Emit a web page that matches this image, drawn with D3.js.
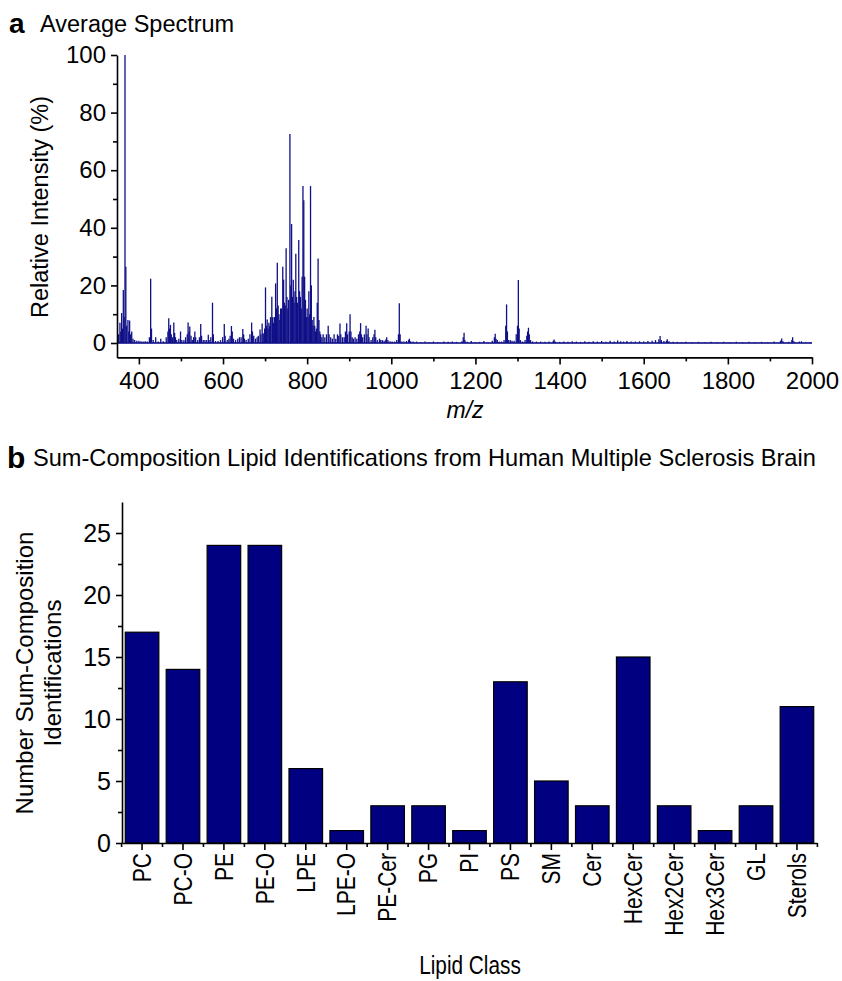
<!DOCTYPE html>
<html lang="en">
<head>
<meta charset="utf-8">
<title>Lipid spectrum</title>
<script src="https://cdn.jsdelivr.net/npm/d3@7/dist/d3.min.js"></script>
<style>
  body { margin: 0; background: #fff; }
  svg { font-family: Arial, "Liberation Sans", sans-serif; }
  .axis path, .axis line { stroke: #000; stroke-width: 1.6; }
  .axis text { fill: #000; }
</style>
</head>
<body>
<div id="chart"></div>
<script>
(function(d3) {
  'use strict';

  // panel a: peak list (m/z, relative intensity %)
  var peakMz = [352,355,357,359,361,363,365,367,369,371,374,376,378,380,383,386,390,395,400,405,410,415,420,425,428,430,434,440,446,452,458,
    465,469,471,473,475,477,480,483,485,487,490,495,499,502,507,511,515,517,519,521,524,527,530,533,535,540,544,547,549,553,557,561,565,567,571,575,577,
    582,588,594,599,603,605,610,614,617,620,622,625,630,635,639,643,647,649,651,655,660,664,668,670,673,677,681,684,688,690,693,695,697,699,
    701,703,705,707,709,711,713,716,718,720,722,725,727,729,731,733,735,737,739,742,744,746,748,750,752,754,756,759,761,763,765,767,769,771,773,775,777,
    780,782,784,786,788,790,792,794,796,798,800,802,804,806,808,810,812,814,816,818,820,822,824,826,828,830,832,835,838,842,846,850,852,856,860,864,868,
    872,875,878,880,884,888,891,894,896,900,902,904,907,910,914,918,922,925,927,929,932,936,940,942,945,947,952,956,959,961,963,967,972,975,979,983,987,989,992,997,
    1002,1008,1013,1017,1019,1021,1025,1030,1036,1041,1043,1046,1052,1060,1070,1080,1090,1100,1110,1125,1135,1145,1155,1168,1171,1173,1175,1180,1190,1200,1210,1220,1230,1240,
    1245,1247,1249,1252,1257,1262,1268,1272,1274,1276,1279,1283,1287,1292,1297,1300,1302,1304,1307,1312,1318,1322,1324,1326,1328,1331,1336,1345,1355,1365,1375,1385,1387,1390,
    1400,1410,1420,1430,1440,1450,1460,1470,1480,1490,1500,1510,1520,1530,1538,1545,1552,1560,1570,1580,1590,1600,1610,1620,1628,1636,1639,1642,1648,1654,1656,1660,
    1670,1680,1690,1700,1715,1730,1745,1760,1775,1790,1805,1820,1835,1850,1865,1880,1895,1910,1925,1928,1931,1945,1952,1954,1957,1970,1975,1985,1995];
  var peakInt = [3,7,4,10.4,5,18.4,9,100,26.5,6,8,4,7.8,3,4,1.5,1,0.8,0.8,0.6,0.5,0.6,0.5,2,22.3,5,1,2,0.5,1.5,0.6,
    2,4,8.6,5,6.3,3,2,7.1,3.5,2,1,1.5,4,1,1,2,3,7.1,4,5.7,2.5,1,2,4,2,1,2,6.6,2.5,1,1,1,2.9,1,2,14,3,
    0.7,0.7,1,2,6.6,2.5,1,1.5,2.5,5.9,4,1.5,1,1.5,2,2,4.9,3,1.5,1,1.5,3,7.1,4,2.5,1.5,2,2.5,4.7,3,6.8,3.5,3,5,
    19.3,6,8.2,5,7,6,9,16.1,8.9,7,9,20.7,12,27.9,13,10,8,12,12,26.5,22,14,13,32.9,16,12,15,72.6,20,41.3,16,22,14,18,31,16,14,
    35.8,18,16,12,23,54.5,49.6,23,15,9,12,9,18,10,54.5,20,8,6,9,6,4,5,14,29.3,8,4,3,2,3,2,3,6,3,2,1.5,3,1.5,
    3,2.5,6.8,3,2,2,4,6.9,3,4,10,4,2,1.5,2,1.5,3,4,6.9,3,2,3,6,3,5,2,1,2,3,4.6,2,1,1.5,1,1,0.8,1.2,2,1,0.6,
    0.5,0.5,1,3,13.8,3,0.5,0.5,0.7,1,1.5,0.6,0.5,0.5,0.3,0.5,0.3,0.5,0.3,0.5,0.4,0.5,0.4,0.6,2,3.6,1,0.4,0.7,0.3,0.4,0.7,0.3,0.8,
    2,3.2,1.5,1,0.5,0.5,1,6,13.4,4,1,1,0.8,0.8,3,6,21.9,5,1,0.5,1,2.5,4,5.3,3,1,0.5,0.5,0.5,0.4,0.5,0.8,1.2,0.5,
    0.4,0.5,0.4,0.6,0.5,0.4,0.6,0.4,0.6,0.5,0.7,0.4,0.8,0.5,0.9,0.6,0.5,0.7,0.5,0.5,0.6,0.5,0.7,0.8,1,1.3,2.4,1,0.7,0.8,1.3,0.6,
    0.4,0.4,0.3,0.4,0.3,0.4,0.3,0.4,0.3,0.4,0.3,0.4,0.3,0.4,0.3,0.4,0.3,0.5,0.8,1.6,0.6,0.4,1,2,0.6,0.5,0.6,0.3,0.3];
  var mzTicks = [400, 600, 800, 1000, 1200, 1400, 1600, 1800, 2000];
  var intTicks = [0, 20, 40, 60, 80, 100];

  // panel b: identifications per lipid class
  var lipidClasses = ['PC','PC-O','PE','PE-O','LPE','LPE-O','PE-Cer','PG','PI','PS','SM','Cer','HexCer','Hex2Cer','Hex3Cer','GL','Sterols'];
  var idCounts = [17, 14, 24, 24, 6, 1, 3, 3, 1, 13, 5, 3, 15, 3, 1, 3, 11];
  var countTicks = [0, 5, 10, 15, 20, 25];

  var svg = d3.select('#chart').append('svg')
    .attr('width', 842)
    .attr('height', 981);

  // ---------- panel a ----------
  var xA = d3.scaleLinear().domain([348, 2000]).range([117, 812]);
  var yA = d3.scaleLinear().domain([-5, 100]).range([357.4, 55]);

  svg.append('text').attr('x', 9).attr('y', 33)
    .attr('font-size', 28).attr('font-weight', 'bold').text('a');
  svg.append('text').attr('x', 40).attr('y', 32)
    .attr('font-size', 23.5).text('Average Spectrum');

  var spec = svg.append('g');
  spec.append('line')
    .attr('x1', xA(350)).attr('x2', xA(2000))
    .attr('y1', yA(0)).attr('y2', yA(0))
    .attr('stroke', '#000080').attr('stroke-width', 1.4);
  spec.selectAll('line.pk')
    .data(peakMz)
    .enter().append('line')
    .attr('class', 'pk')
    .attr('x1', function(d) { return xA(d); })
    .attr('x2', function(d) { return xA(d); })
    .attr('y1', yA(0))
    .attr('y2', function(d, i) { return yA(peakInt[i]); })
    .attr('stroke', '#101088')
    .attr('stroke-width', 1.3);

  var axA = svg.append('g').attr('class', 'axis')
    .attr('transform', 'translate(0,' + yA(-5) + ')');
  axA.call(d3.axisBottom(xA).tickValues(mzTicks).tickFormat(d3.format('d'))
    .tickSize(7).tickSizeOuter(0).tickPadding(8));
  axA.selectAll('text').attr('font-size', 24);
  svg.append('g').attr('class', 'axis')
    .attr('transform', 'translate(0,' + yA(-5) + ')')
    .call(d3.axisBottom(xA).tickValues([500, 700, 900, 1100, 1300, 1500, 1700, 1900]).tickSize(4).tickSizeOuter(0).tickFormat(''))
    .select('.domain').remove();

  var ayA = svg.append('g').attr('class', 'axis')
    .attr('transform', 'translate(' + xA(348) + ',0)');
  ayA.call(d3.axisLeft(yA).tickValues(intTicks).tickSize(6).tickSizeOuter(0).tickPadding(5));
  ayA.selectAll('text').attr('font-size', 24);
  svg.append('g').attr('class', 'axis')
    .attr('transform', 'translate(' + xA(348) + ',0)')
    .call(d3.axisLeft(yA).tickValues([10, 30, 50, 70, 90]).tickSize(4).tickFormat(''))
    .select('.domain').remove();

  svg.append('text')
    .attr('x', 465).attr('y', 418)
    .attr('text-anchor', 'middle').attr('font-size', 23).attr('font-style', 'italic')
    .text('m/z');
  svg.append('text')
    .attr('transform', 'translate(48,207) rotate(-90)')
    .attr('text-anchor', 'middle').attr('font-size', 23.5)
    .text('Relative Intensity (%)');

  // ---------- panel b ----------
  var xB = d3.scaleBand().domain(lipidClasses).range([122, 817])
    .paddingInner(0.18).paddingOuter(0.08);
  var yB = d3.scaleLinear().domain([0, 27.5]).range([843, 502]);

  svg.append('text').attr('x', 7).attr('y', 468)
    .attr('font-size', 30).attr('font-weight', 'bold').text('b');
  svg.append('text').attr('x', 33).attr('y', 466)
    .attr('font-size', 23.6)
    .text('Sum-Composition Lipid Identifications from Human Multiple Sclerosis Brain');

  svg.append('g').selectAll('rect')
    .data(lipidClasses)
    .enter().append('rect')
    .attr('x', function(d) { return xB(d); })
    .attr('width', xB.bandwidth())
    .attr('y', function(d, i) { return yB(idCounts[i]); })
    .attr('height', function(d, i) { return yB(0) - yB(idCounts[i]); })
    .attr('fill', '#000080')
    .attr('stroke', '#000')
    .attr('stroke-width', 1.2);

  var ayB = svg.append('g').attr('class', 'axis').attr('transform', 'translate(122,0)');
  ayB.call(d3.axisLeft(yB).tickValues(countTicks).tickSize(6).tickSizeOuter(0).tickPadding(5));
  ayB.selectAll('text').attr('font-size', 25);
  svg.append('g').attr('class', 'axis').attr('transform', 'translate(122,0)')
    .call(d3.axisLeft(yB).tickValues([2.5, 7.5, 12.5, 17.5, 22.5]).tickSize(4).tickFormat(''))
    .select('.domain').remove();

  var axB = svg.append('g').attr('class', 'axis').attr('transform', 'translate(0,' + yB(0) + ')');
  axB.call(d3.axisBottom(xB).tickSize(7).tickSizeOuter(0).tickPadding(10));
  axB.selectAll('text')
    .attr('font-size', 25)
    .attr('text-anchor', 'end')
    .attr('dy', '0.35em')
    .attr('transform', 'rotate(-90) scale(0.84,1)')
    .attr('x', -10 / 0.84).attr('y', 0);
  // minor ticks at band edges
  var edges = lipidClasses.map(function(d) { return xB(d) - xB.step() * xB.paddingInner() / 2; });
  edges.push(xB(lipidClasses[lipidClasses.length - 1]) + xB.bandwidth() + xB.step() * xB.paddingInner() / 2);
  svg.append('g').selectAll('line')
    .data(edges)
    .enter().append('line')
    .attr('x1', function(d) { return d; }).attr('x2', function(d) { return d; })
    .attr('y1', yB(0)).attr('y2', yB(0) + 4)
    .attr('stroke', '#000').attr('stroke-width', 1.6);

  svg.append('text')
    .attr('transform', 'translate(470,974) scale(0.8,1)')
    .attr('text-anchor', 'middle').attr('font-size', 26)
    .text('Lipid Class');
  var yt = svg.append('text')
    .attr('transform', 'translate(0,673) rotate(-90)')
    .attr('text-anchor', 'middle').attr('font-size', 24);
  yt.append('tspan').attr('x', 0).attr('y', 33).text('Number Sum-Composition');
  yt.append('tspan').attr('x', 0).attr('y', 61).text('Identifications');

})(window.d3);
</script>
</body>
</html>
